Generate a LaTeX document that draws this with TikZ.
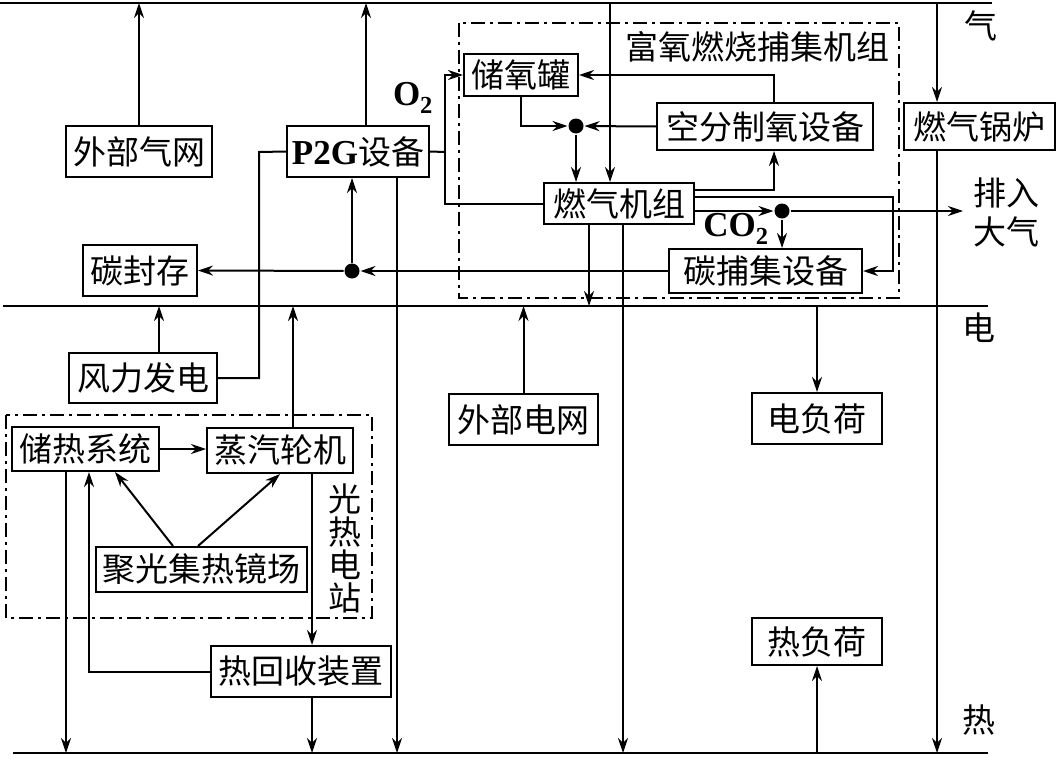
\documentclass[tikz,border=0pt]{standalone}
\usepackage{fontspec}
\setmainfont{Liberation Serif}
\newfontfamily\cjk{Noto Sans CJK SC}
\usetikzlibrary{arrows.meta,calc}

\begin{document}
\begin{tikzpicture}[x=1pt,y=-1pt,line width=2pt,>={Stealth[length=15pt,width=10pt]},
  font=\cjk\fontsize{33}{36}\selectfont,inner sep=0pt,
  blk/.style={draw},
  bus/.style={line width=2.4pt},
  frame/.style={dash pattern=on 14pt off 5pt on 3pt off 5pt},
  dot/.style={circle,fill,minimum size=15pt},
  lat/.style={font=\rmfamily\bfseries\fontsize{35}{36}\selectfont}]
\useasboundingbox (0,0) rectangle (1056,760);
% energy buses
\coordinate (gasL) at (0,3);   \coordinate (gasR) at (992,3);
\coordinate (eleL) at (3,306); \coordinate (eleR) at (988,306);
\coordinate (heaL) at (13,753);\coordinate (heaR) at (988,753);
\draw[bus] (gasL)--(gasR);
\draw[bus] (eleL)--(eleR);
\draw[bus] (heaL)--(heaR);
\node (lgas) at (981,26) {气};
\node (lele) at (979,328) {电};
\node (lhea) at (979,720) {热};
% groups
\draw[frame] (459,23) rectangle (899,298);
\draw[frame] (6,415) rectangle (372,618);
\node[anchor=east] (oxyl) at (890,47) {富氧燃烧捕集机组};
\node[align=center,font=\cjk\fontsize{33}{33}\selectfont] (cspl) at (345,548) {光\\热\\电\\站};
% units
\node[blk,minimum width=146pt,minimum height=51pt] (bgas) at (139,151.5) {外部气网};
\node[blk,minimum width=142pt,minimum height=51pt] (p2g) at (358,151.5) {{\rmfamily\bfseries\fontsize{35}{36}\selectfont P2G}设备};
\node[blk,minimum width=114pt,minimum height=51pt] (ccs) at (140,270.5) {碳封存};
\node[blk,minimum width=148pt,minimum height=50pt] (wind) at (143,378) {风力发电};
\node[blk,minimum width=147pt,minimum height=44pt] (tes) at (85.5,449) {储热系统};
\node[blk,minimum width=146pt,minimum height=45pt] (stm) at (280,450.5) {蒸汽轮机};
\node[blk,minimum width=211pt,minimum height=45pt] (csp) at (201.5,569.5) {聚光集热镜场};
\node[blk,minimum width=180pt,minimum height=51pt] (hrec) at (301,671.5) {热回收装置};
\node[blk,minimum width=149pt,minimum height=51pt] (egrid) at (523.5,419.5) {外部电网};
\node[blk,minimum width=130pt,minimum height=51pt] (eload) at (817,418.5) {电负荷};
\node[blk,minimum width=130pt,minimum height=47pt] (hload) at (817,641.5) {热负荷};
\node[blk,minimum width=114pt,minimum height=42pt] (o2tk) at (521,75) {储氧罐};
\node[blk,minimum width=216pt,minimum height=47pt] (asu) at (765,126.5) {空分制氧设备};
\node[blk,minimum width=150pt,minimum height=41pt] (gt) at (619,203.5) {燃气机组};
\node[blk,minimum width=193pt,minimum height=44pt] (ccap) at (765.5,271) {碳捕集设备};
\node[blk,minimum width=151pt,minimum height=47pt] (boil) at (979.5,126.5) {燃气锅炉};
\node[align=center,font=\cjk\fontsize{33}{39}\selectfont] (atm) at (1006,212.5) {排入\\大气};
\node[lat] (lo2) at (413,98) {O\textsubscript{2}};
\node[lat] (lco2) at (736,229) {CO\textsubscript{2}};
\node[dot] (mix) at (576,126) {};
\node[dot] (spl) at (782,211) {};
\node[dot] (cj) at (352,271) {};
% helper points
\coordinate (wtap) at (259,152);
\coordinate (o2j) at (445,152);
\coordinate (p2gT) at ([xshift=8pt]p2g.north);
\coordinate (p2gB) at ([xshift=39pt]p2g.south);
\coordinate (gtT) at ([xshift=-9pt]gt.north);
\coordinate (gtE1) at ([yshift=13.5pt]gt.east);
\coordinate (gtE2) at ([yshift=6.5pt]gt.east);
\coordinate (gtE3) at ([yshift=-7.5pt]gt.east);
\coordinate (gtB1) at ([xshift=-30pt]gt.south);
\coordinate (gtB2) at ([xshift=4pt]gt.south);
\coordinate (asuT) at ([xshift=9pt]asu.north);
\coordinate (asuB) at ([xshift=9pt]asu.south);
\coordinate (ccbend) at (893,197);
\coordinate (atmin) at ([xshift=-9pt]atm.west);
\coordinate (blT) at ([xshift=-42.5pt]boil.north);
\coordinate (blB) at ([xshift=-42.5pt]boil.south);
\coordinate (windT) at ([xshift=16pt]wind.north);
\coordinate (stmT) at ([xshift=13pt]stm.north);
\coordinate (stmB) at ([xshift=32pt]stm.south);
\coordinate (hrecB) at ([xshift=11pt]hrec.south);
\coordinate (tesB1) at ([xshift=-19.5pt]tes.south);
\coordinate (tesB2) at ([xshift=3.5pt]tes.south);
\coordinate (tesB3) at ([xshift=29.5pt]tes.south);
\coordinate (cspT1) at ([xshift=-28.5pt]csp.north);
\coordinate (cspT2) at ([xshift=-3.5pt]csp.north);
% gas side
\draw[->] (bgas.north)--(bgas.north |- gasL);
\draw[->] (p2gT)--(p2gT |- gasL);
\draw (wind.east) -| (wtap)--(p2g.west);
\draw (p2g.east)--(o2j);
\draw[->] (o2j) |- (o2tk.west);
\draw (o2j) |- (gt.west);
\draw[->] (gtT |- gasL)--(gtT);
\draw[->] (o2tk.south) |- (mix);
\draw[->] (asu.west)--(mix);
\draw[->] (mix)--(mix |- gt.north);
\draw[->] (asuT) |- (o2tk.east);
\draw[->] (gtE1) -| (asuB);
\draw[->] (gtE2)--(ccbend) |- (ccap.east);
\draw[->] (gtE3)--(spl);
\draw[->] (spl)--(spl -| atmin);
\draw[->] (spl)--(spl |- ccap.north);
\draw[->] (ccap.west)--(cj);
\draw[->] (cj)--(cj |- p2g.south);
\draw[->] (cj)--(ccs.east);
\draw[->] (blT |- gasL)--(blT);
% electricity side
\draw[->] (gtB1)--(gtB1 |- eleL);
\draw[->] (windT)--(windT |- eleL);
\draw[->] (stmT)--(stmT |- eleL);
\draw[->] (egrid.north)--(egrid.north |- eleL);
\draw[->] (eload.north |- eleL)--(eload.north);
% heat side
\draw[->] (p2gB)--(p2gB |- heaL);
\draw[->] (gtB2)--(gtB2 |- heaL);
\draw[->] (blB)--(blB |- heaL);
\draw[->] (hload.south |- heaL)--(hload.south);
\draw[->] (tes.east)--(tes.east -| stm.west);
\draw[->] (cspT1)--(tesB3);
\draw[->] (cspT2)--(stm.south);
\draw[->] (stmB)--(stmB |- hrec.north);
\draw[->] (hrec.west) -| (tesB2);
\draw[->] (tesB1)--(tesB1 |- heaL);
\draw[->] (hrecB)--(hrecB |- heaL);
\end{tikzpicture}
\end{document}
